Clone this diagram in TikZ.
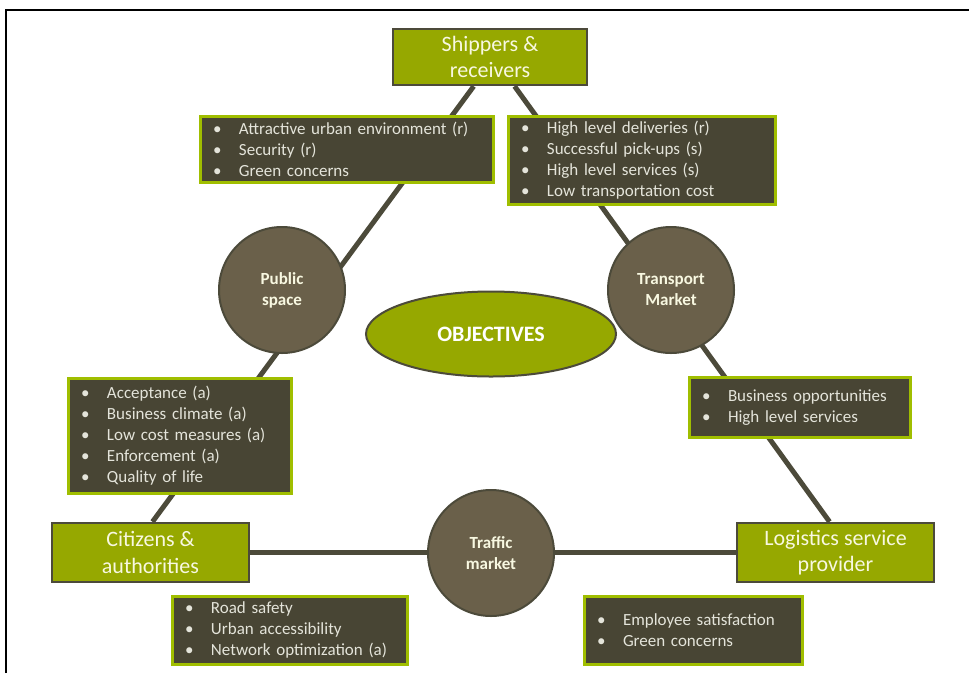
\documentclass[tikz,border=0pt]{standalone}
\usepackage{fontspec}
\setmainfont{Carlito}
\usetikzlibrary{shapes.geometric,calc}
\pgfdeclarelayer{background}
\pgfsetlayers{background,main}
\definecolor{olivegreen}{RGB}{150,168,0}
\definecolor{limeborder}{RGB}{160,190,0}
\definecolor{darkbox}{RGB}{72,69,52}
\definecolor{darkline}{RGB}{76,74,58}
\definecolor{circfill}{RGB}{106,96,74}
\definecolor{creamtext}{RGB}{248,248,225}
\definecolor{bullettext}{RGB}{228,228,218}
\newcommand{\bi}[1]{\makebox[26pt][l]{\textbullet}#1}
\tikzset{
  titlebox/.style={draw=darkline, line width=2.5pt, fill=olivegreen, text=creamtext,
    align=center, inner sep=0pt, font=\fontsize{22}{26.5}\selectfont},
  listbox/.style={draw=limeborder, line width=3pt, fill=darkbox, text=bullettext,
    align=left, inner xsep=13pt, inner ysep=0pt, font=\fontsize{17}{21}\selectfont},
  topic/.style={circle, draw=darkline, line width=2pt, fill=circfill, text=creamtext,
    minimum size=126pt, inner sep=0pt, align=center, font=\bfseries\fontsize{17}{21}\selectfont},
  link/.style={draw=darkline, line width=5pt},
  frameline/.style={draw=black, line width=2pt}
}
\begin{document}
\begin{tikzpicture}[x=1pt,y=-1pt]
\useasboundingbox (0,0) rectangle (969,673);
% outer frame
\coordinate (fa) at (6,673);
\coordinate (fb) at (6,10);
\coordinate (fc) at (969,10);
\draw[frameline] (fa) -- (fb) -- (fc);

% title boxes
\node[titlebox, minimum width=194pt, minimum height=56pt] (ship) at (490,57) {Shippers \&\\receivers};
\node[titlebox, minimum width=197pt, minimum height=59pt] (cit) at (150.5,552.5) {Citizens \&\\authorities};
\node[titlebox, minimum width=197pt, minimum height=59pt] (log) at (835.5,552.5) {Logistics service\\provider};

% topic circles
\node[topic] (pub) at (282,290) {Public\\space};
\node[topic] (trans) at (671,290) {Transport\\Market};
\node[topic] (traf) at (491,553) {Traffic\\market};

% objectives
\node[ellipse, draw=darkline, line width=2pt, fill=olivegreen, text=white,
  minimum width=250pt, minimum height=85pt, inner sep=0pt,
  font=\bfseries\fontsize{22}{26}\selectfont] (obj) at (491,334) {OBJECTIVES};

% list boxes
\node[listbox, text width=267pt, minimum height=66pt] (l_tl) at (346.5,149)
  {\bi{Attractive urban environment (r)}\\\bi{Security (r)}\\\bi{Green concerns}};
\node[listbox, text width=241pt, minimum height=88pt] (l_tr) at (641.5,160)
  {\bi{High level deliveries (r)}\\\bi{Successful pick-ups (s)}\\\bi{High level services (s)}\\\bi{Low transportation cost}};
\node[listbox, text width=197pt, minimum height=115pt] (l_l) at (179.5,436)
  {\bi{Acceptance (a)}\\\bi{Business climate (a)}\\\bi{Low cost measures (a)}\\\bi{Enforcement (a)}\\\bi{Quality of life}};
\node[listbox, text width=195pt, minimum height=60pt] (l_r) at (799.5,407.5)
  {\bi{Business opportunities}\\\bi{High level services}};
\node[listbox, text width=209pt, minimum height=68pt] (l_bl) at (289.5,630)
  {\bi{Road safety}\\\bi{Urban accessibility}\\\bi{Network optimization (a)}};
\node[listbox, text width=192pt, minimum height=68pt] (l_br) at (693,630)
  {\bi{Employee satisfaction}\\\bi{Green concerns}};

% connectors behind everything
\coordinate (s1) at ($(ship.south west)!0.417!(ship.south east)$);
\coordinate (s2) at ($(ship.south west)!0.625!(ship.south east)$);
\coordinate (c1) at ($(cit.north west)!0.51!(cit.north east)$);
\coordinate (l1) at ($(log.north west)!0.47!(log.north east)$);
\begin{pgfonlayer}{background}
\draw[link] (s1) -- (c1);
\draw[link] (s2) -- (l1);
\draw[link] (cit.east) -- (log.west);
\end{pgfonlayer}
\end{tikzpicture}
\end{document}
